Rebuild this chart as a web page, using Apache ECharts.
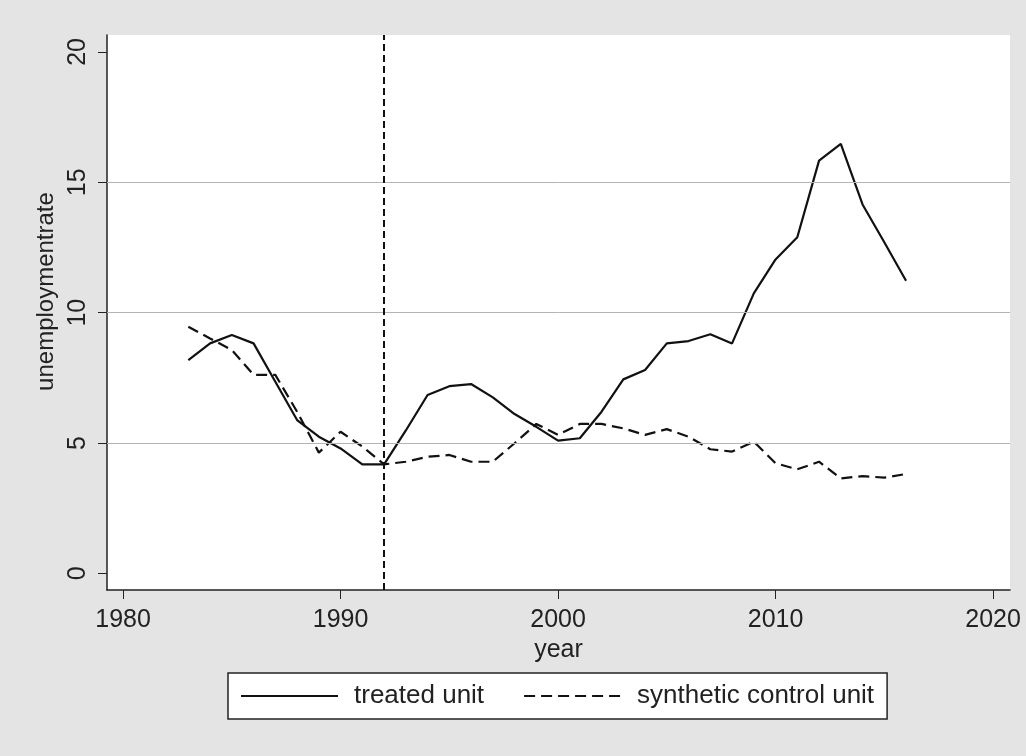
<!DOCTYPE html>
<html>
<head>
<meta charset="utf-8">
<script src="https://cdn.jsdelivr.net/npm/echarts@6/dist/echarts.min.js"></script>
<style>
  html, body { margin: 0; padding: 0; background: #e4e4e4; }
  #chart { width: 1026px; height: 756px; }
</style>
</head>
<body>
<div id="chart"></div>
<script>
"use strict";

// years 1983..2016
const YEARS = [1983, 1984, 1985, 1986, 1987, 1988, 1989, 1990, 1991, 1992,
  1993, 1994, 1995, 1996, 1997, 1998, 1999, 2000, 2001, 2002,
  2003, 2004, 2005, 2006, 2007, 2008, 2009, 2010, 2011, 2012,
  2013, 2014, 2015, 2016];

const TREATED = [8.18, 8.82, 9.14, 8.82, 7.35, 5.88, 5.24, 4.79, 4.18, 4.18,
  5.48, 6.84, 7.18, 7.26, 6.75, 6.11, 5.62, 5.09, 5.18, 6.2,
  7.44, 7.8, 8.82, 8.91, 9.17, 8.82, 10.74, 12.04, 12.89, 15.83,
  16.47, 14.15, 12.7, 11.22];

const SYNTHETIC = [9.46, 9.01, 8.57, 7.61, 7.61, 6.2, 4.63, 5.43, 4.86, 4.18,
  4.28, 4.47, 4.54, 4.28, 4.28, 4.99, 5.73, 5.31, 5.73, 5.73,
  5.56, 5.31, 5.53, 5.24, 4.76, 4.67, 5.05, 4.22, 3.99, 4.28,
  3.64, 3.73, 3.67, 3.81];

const X_TICKS = [1980, 1990, 2000, 2010, 2020];
const Y_TICKS = [0, 5, 10, 15, 20];
const Y_GRID = [5, 10, 15];
const TREAT_YEAR = 1992;

const FONT = "'Liberation Sans', Arial, sans-serif";

const pair = arr => YEARS.map((y, i) => [y, arr[i]]);

const chart = echarts.init(document.getElementById("chart"));
chart.setOption({
  backgroundColor: "#e4e4e4",
  animation: false,
  grid: {
    left: 107, right: 16, top: 35, bottom: 166,
    show: true, backgroundColor: "#ffffff", borderWidth: 0,
  },
  legend: {
    data: ["treated unit", "synthetic control unit"],
    left: 228, top: 673,
    orient: "horizontal",
    itemWidth: 97, itemHeight: 14, itemGap: 39,
    padding: [10, 13, 10, 12],
    backgroundColor: "#ffffff",
    borderColor: "#222", borderWidth: 1.5,
    // hide the circle marker, keep only the line sample
    itemStyle: { color: "transparent", borderColor: "transparent", borderWidth: 0, opacity: 0 },
    textStyle: { fontFamily: FONT, fontSize: 26, color: "#222", padding: [0, 0, 0, 11] },
  },
  xAxis: {
    type: "value",
    min: 1979.26, max: 2020.78,
    name: "year", nameLocation: "middle", nameGap: 44,
    nameTextStyle: { fontFamily: FONT, fontSize: 25, color: "#222" },
    axisLine: { onZero: false, lineStyle: { color: "#222", width: 1.5 } },
    axisTick: { customValues: X_TICKS, length: 9, lineStyle: { color: "#222" } },
    axisLabel: {
      customValues: X_TICKS, margin: 18,
      fontFamily: FONT, fontSize: 25, color: "#222",
      formatter: v => String(v),
    },
    splitLine: { show: false },
  },
  yAxis: {
    type: "value",
    min: -0.64, max: 20.65,
    name: "unemploymentrate", nameLocation: "middle", nameGap: 46,
    nameTextStyle: { fontFamily: FONT, fontSize: 24, color: "#222", padding: [0, 0, 0, 42] },
    axisLine: { show: true, onZero: false, lineStyle: { color: "#222", width: 1.5 } },
    axisTick: { show: true, customValues: Y_TICKS, length: 9, lineStyle: { color: "#222" } },
    axisLabel: {
      customValues: Y_TICKS, rotate: 90, margin: 16,
      fontFamily: FONT, fontSize: 25, color: "#222",
    },
    splitLine: { show: false },
  },
  series: [
    {
      name: "grid", type: "line", data: [], z: 1, silent: true,
      markLine: {
        silent: true, symbol: "none", label: { show: false },
        lineStyle: { color: "#b4b4b4", width: 1, type: "solid" },
        data: Y_GRID.map(v => ({ yAxis: v })),
      },
    },
    {
      name: "treated unit", type: "line", symbol: "none", z: 3,
      lineStyle: { color: "#111", width: 2.2, type: "solid" },
      itemStyle: { color: "#111" },
      data: pair(TREATED),
      markLine: {
        silent: true, symbol: "none", label: { show: false },
        lineStyle: { color: "#111", width: 2, type: [7, 4] },
        data: [{ xAxis: TREAT_YEAR }],
      },
    },
    {
      name: "synthetic control unit", type: "line", symbol: "none", z: 3,
      lineStyle: { color: "#111", width: 2.2, type: [11, 6] },
      itemStyle: { color: "#111" },
      data: pair(SYNTHETIC),
    },
  ],
});
</script>
</body>
</html>
